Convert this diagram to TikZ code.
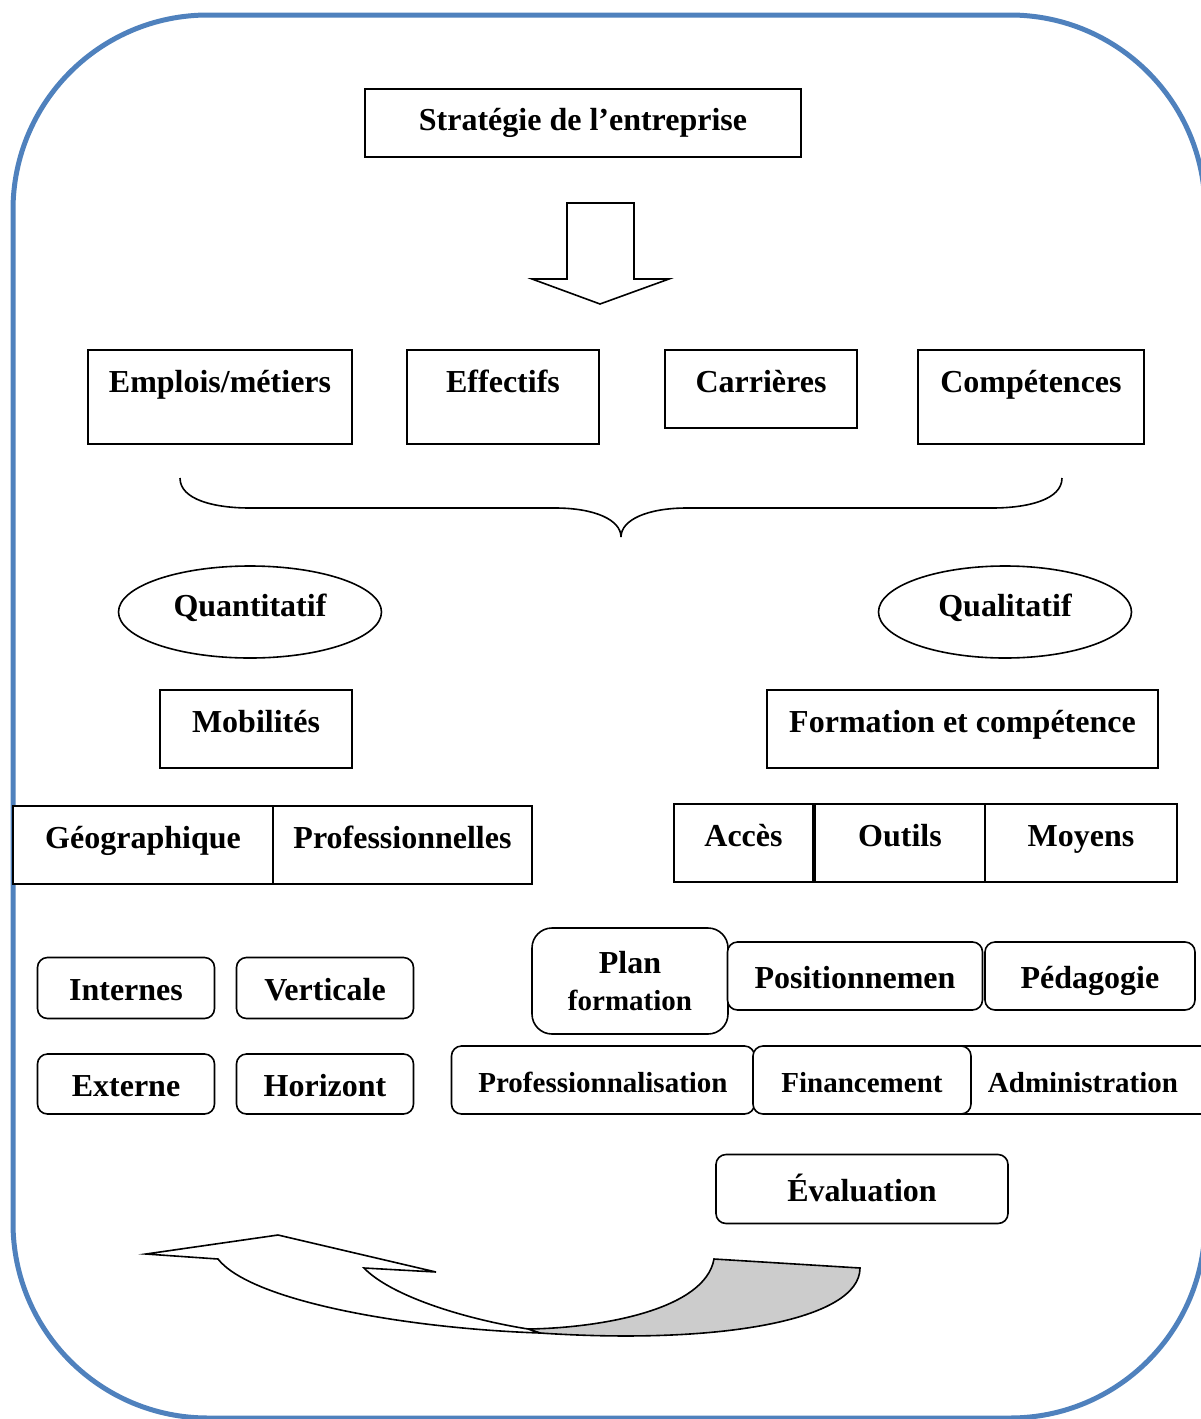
\documentclass[tikz,border=0pt]{standalone}
\usepackage{fontspec}
\setmainfont{Liberation Serif}
\usetikzlibrary{shapes.geometric}

\definecolor{frameblue}{RGB}{79,129,189}

\begin{document}
\begin{tikzpicture}[
    x=1pt, y=-1pt,
    every node/.style={font=\fontsize{32}{38}\selectfont\bfseries},
    box/.style={draw, line width=1.6pt, fill=white, inner sep=0pt, outer sep=0pt, align=center},
    tbox/.style={box, anchor=north west, text height=42pt, text depth=#1},
    rbox/.style={box, rounded corners=10pt, text height=28pt, text depth=3pt},
    oval/.style={draw, line width=1.6pt, ellipse, inner sep=0pt, text height=22pt, text depth=14pt},
    small/.style={font=\fontsize{29}{35}\selectfont\bfseries},
    shape line/.style={draw, line width=1.6pt}
]
\useasboundingbox (0,0) rectangle (1201,1419);
\clip (0,0) rectangle (1201,1419);
\draw[frameblue, line width=5pt, rounded corners=195pt] (13,15) rectangle (1205,1418);

\node[box, minimum width=436pt, minimum height=68pt] (strat) at (583,123) {Stratégie de l’entreprise};
\path[shape line, fill=white] (567,203) -- (634,203) -- (634,279) -- (669,279) -- (600,304) -- (532,279) -- (567,279) -- cycle;

\node[tbox=52pt, minimum width=264pt] (emplois) at (88,350) {Emplois/métiers};
\node[tbox=52pt, minimum width=192pt] (effectifs) at (407,350) {Effectifs};
\node[tbox=36pt, minimum width=192pt] (carrieres) at (665,350) {Carrières};
\node[tbox=52pt, minimum width=226pt] (competences) at (918,350) {Compétences};

\draw[line width=1.6pt] (180,478) .. controls (180,500) and (215,508) .. (250,508) -- (555,508)
    .. controls (595,508) and (621,520) .. (621,537) .. controls (621,520) and (647,508) .. (687,508)
    -- (992,508) .. controls (1027,508) and (1062,500) .. (1062,478);

\node[oval, minimum width=263pt, minimum height=92pt] (quanti) at (250,612) {Quantitatif};
\node[oval, minimum width=253pt, minimum height=92pt] (quali) at (1005,612) {Qualitatif};

\node[tbox=36pt, minimum width=192pt] (mobilites) at (160,690) {Mobilités};
\node[tbox=36pt, minimum width=391pt] (formcomp) at (767,690) {Formation et compétence};

\node[tbox=36pt, minimum width=260pt] (geo) at (13,806) {Géographique};
\node[tbox=36pt, minimum width=259pt] (prof) at (273,806) {Professionnelles};
\node[tbox=36pt, minimum width=139pt] (acces) at (674,804) {Accès};
\node[tbox=36pt, minimum width=170pt] (outils) at (815,804) {Outils};
\node[tbox=36pt, minimum width=192pt] (moyens) at (985,804) {Moyens};

\node[rbox, minimum width=177pt, minimum height=61pt] (internes) at (126,988) {Internes};
\node[rbox, minimum width=177pt, minimum height=61pt] (verticale) at (325,988) {Verticale};
\node[rbox, minimum width=177pt, minimum height=60pt] (externe) at (126,1084) {Externe};
\node[rbox, minimum width=177pt, minimum height=60pt] (horizont) at (325,1084) {Horizont};

\node[box, rounded corners=20pt, minimum width=196pt, minimum height=106pt] (plan) at (630,981)
    {Plan\\[-1pt]{\fontsize{29}{35}\selectfont formation}};
\node[rbox, minimum width=255pt, minimum height=68pt] (position) at (855,976) {Positionnemen};
\node[rbox, minimum width=210pt, minimum height=68pt] (pedago) at (1090,976) {Pédagogie};

\node[rbox, small, minimum width=266pt, minimum height=68pt] (admin) at (1083,1080) {Administration};
\node[rbox, small, minimum width=303pt, minimum height=68pt] (profsn) at (603,1080) {Professionnalisation};
\node[rbox, small, minimum width=218pt, minimum height=68pt] (financ) at (862,1080) {Financement};

\node[rbox, minimum width=292pt, minimum height=69pt] (evaluation) at (862,1189) {Évaluation};

\path[shape line, fill=black!20] (714,1259) -- (860,1268) .. controls (860,1320) and (720,1345) .. (540,1333)
    -- (528,1329) .. controls (600,1328) and (705,1310) .. (714,1259) -- cycle;
\path[shape line, fill=white] (146,1254) -- (278,1235) -- (436,1272) -- (364,1268)
    .. controls (390,1295) and (460,1318) .. (528,1329) -- (540,1333)
    .. controls (400,1328) and (250,1300) .. (218,1259) -- cycle;
\end{tikzpicture}
\end{document}
